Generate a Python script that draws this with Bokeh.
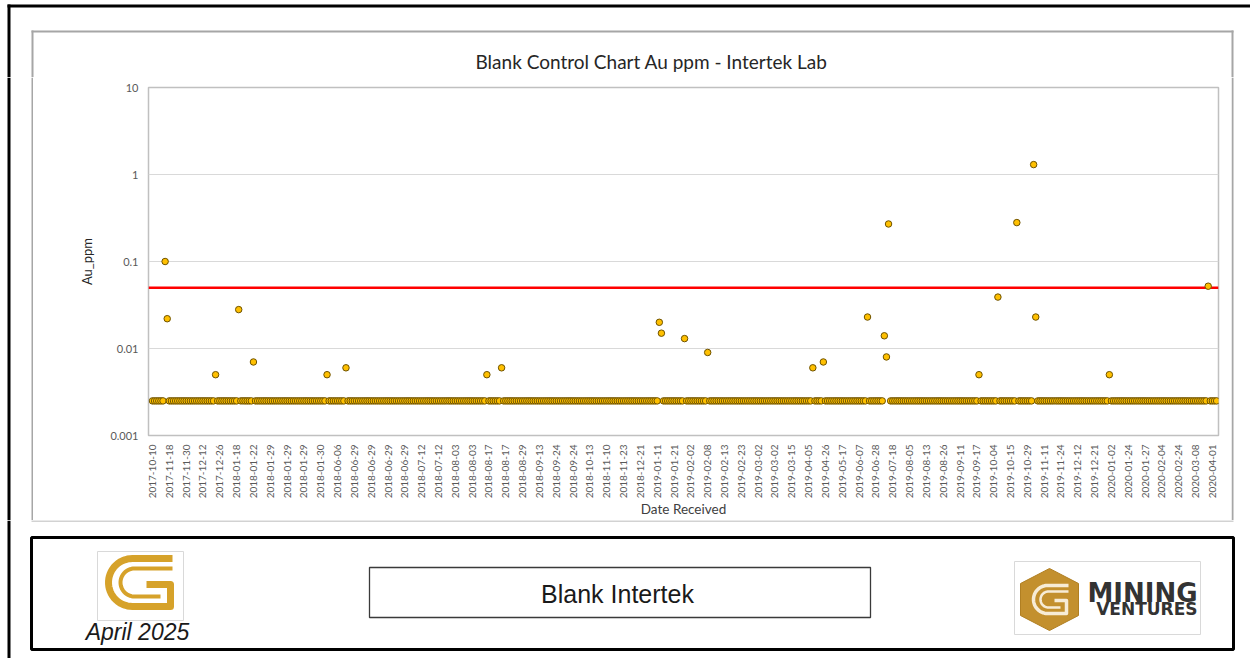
import numpy as np
from bokeh.plotting import figure
from bokeh.layouts import column, row
from bokeh.models import (Range1d, FixedTicker, NumeralTickFormatter, Span,
                          Label, ColumnDataSource)
from bokeh.embed import file_html
from bokeh.resources import INLINE

# ---------------- data ----------------
tick_labels = [
    "2017-10-10", "2017-11-18", "2017-11-30", "2017-12-12", "2017-12-26",
    "2018-01-18", "2018-01-22", "2018-01-29", "2018-01-29", "2018-01-29",
    "2018-01-30", "2018-06-06", "2018-06-29", "2018-06-29", "2018-06-29",
    "2018-06-29", "2018-07-12", "2018-07-12", "2018-08-03", "2018-08-03",
    "2018-08-17", "2018-08-17", "2018-08-29", "2018-09-13", "2018-09-24",
    "2018-09-24", "2018-10-13", "2018-11-10", "2018-11-23", "2018-12-21",
    "2019-01-11", "2019-01-21", "2019-02-02", "2019-02-08", "2019-02-13",
    "2019-02-23", "2019-03-02", "2019-03-02", "2019-03-15", "2019-04-05",
    "2019-04-26", "2019-05-17", "2019-06-07", "2019-06-28", "2019-07-18",
    "2019-08-05", "2019-08-13", "2019-08-26", "2019-09-11", "2019-09-17",
    "2019-10-04", "2019-10-15", "2019-10-29", "2019-11-11", "2019-11-24",
    "2019-12-12", "2019-12-21", "2020-01-02", "2020-01-24", "2020-01-27",
    "2020-02-04", "2020-02-24", "2020-03-08", "2020-04-01",
]
n_samples = 507            # number of blank samples (categories)
label_step = 8             # one date label every 8 samples
detection_floor = 0.0025   # value of all samples below detection
outlier_idx = [6, 7, 30, 41, 48, 83, 92, 159, 166, 241, 242, 253, 264, 314, 319,
               340, 348, 349, 350, 393, 402, 411, 419, 420, 455, 502]
outlier_au = [0.1, 0.022, 0.005, 0.028, 0.007, 0.005, 0.006, 0.005, 0.006,
              0.02, 0.015, 0.013, 0.009, 0.006, 0.007, 0.023, 0.014, 0.008,
              0.27, 0.005, 0.039, 0.28, 1.3, 0.023, 0.005, 0.052]
threshold_au = 0.05
y_ticks = [0.001, 0.01, 0.1, 1, 10]

au_ppm = [detection_floor] * n_samples
for i, v in zip(outlier_idx, outlier_au):
    au_ppm[i] = v
sample_idx = list(range(n_samples))
tick_pos = list(range(0, n_samples, label_step))

FONT = "Lato"
GRAYBOX = "#a6a6a6"


def no_align(fig):
    try:
        fig.frame_align = False
    except Exception:
        pass


def canvas_fig(w, h):
    fig = figure(width=w, height=h, x_range=Range1d(0, w), y_range=Range1d(0, h),
                 output_backend="svg", toolbar_location=None, min_border=0,
                 x_axis_location=None, y_axis_location=None)
    fig.grid.visible = False
    fig.outline_line_color = None
    fig.background_fill_color = "white"
    fig.border_fill_color = "white"
    no_align(fig)
    return fig


def bar(fig, l, r, b, t, color):
    fig.quad(left=[l], right=[r], bottom=[b], top=[t], fill_color=color, line_color=None)


# ---------------- top strip (page y 0..77) ----------------
T = canvas_fig(1250, 77)
bar(T, 7, 1250, 70, 73, "black")
bar(T, 7, 10, 0, 73, "black")
bar(T, 31, 1233, 45, 47, GRAYBOX)
bar(T, 31, 33, 0, 47, GRAYBOX)
bar(T, 1231, 1233, 0, 47, GRAYBOX)
T.add_layout(Label(x=651, y=16, text="Blank Control Chart Au ppm - Intertek Lab",
                   text_align="center", text_baseline="middle",
                   text_font=FONT, text_font_size="19px", text_color="#262626"))

# ---------------- side strips ----------------
L = canvas_fig(33, 443)
bar(L, 7, 10, 0, 443, "black")
bar(L, 31, 33, 0, 443, GRAYBOX)
R = canvas_fig(19, 443)
bar(R, 0, 2, 0, 443, GRAYBOX)

# ---------------- chart figure ----------------
p = figure(width=1198, height=443, x_range=Range1d(-1.9, 506.9),
           y_range=Range1d(0.001, 10), y_axis_type="log",
           output_backend="svg", toolbar_location=None,
           min_border_left=115, min_border_right=13,
           min_border_top=10, min_border_bottom=84)
no_align(p)
p.background_fill_color = "white"
p.border_fill_color = "white"
p.outline_line_color = "#c0c0c0"
p.outline_line_width = 1.5

p.xgrid.visible = False
p.ygrid.grid_line_color = "#d9d9d9"
p.ygrid.grid_line_width = 1.2

xa = p.xaxis[0]
xa.ticker = FixedTicker(ticks=tick_pos)
xa.major_label_overrides = {t: lab for t, lab in zip(tick_pos, tick_labels)}
xa.major_label_orientation = np.pi / 2
xa.major_tick_line_color = None
xa.major_tick_out = 0
xa.major_tick_in = 0
xa.minor_tick_line_color = None
xa.axis_line_color = None
xa.major_label_standoff = 9
xa.major_label_text_font = FONT
xa.major_label_text_font_size = "10px"
xa.major_label_text_color = "#595959"
xa.axis_label = "Date Received"
xa.axis_label_standoff = 0
xa.axis_label_text_font = FONT
xa.axis_label_text_font_size = "13.5px"
xa.axis_label_text_font_style = "normal"
xa.axis_label_text_color = "#404040"

ya = p.yaxis[0]
ya.ticker = FixedTicker(ticks=y_ticks, minor_ticks=[])
ya.formatter = NumeralTickFormatter(format="0.[000]")
ya.major_tick_line_color = None
ya.major_tick_out = 0
ya.major_tick_in = 0
ya.minor_tick_line_color = None
ya.axis_line_color = None
ya.major_label_standoff = 10
ya.major_label_text_font = FONT
ya.major_label_text_font_size = "11px"
ya.major_label_text_color = "#595959"
ya.axis_label = "Au_ppm"
ya.axis_label_standoff = 12
ya.axis_label_text_font = FONT
ya.axis_label_text_font_size = "13px"
ya.axis_label_text_font_style = "normal"
ya.axis_label_text_color = "#262626"

p.add_layout(Span(location=threshold_au, dimension="width",
                  line_color="#ff0000", line_width=2.5, level="underlay"))

src = ColumnDataSource(dict(x=sample_idx, y=au_ppm))
p.scatter(x="x", y="y", source=src, size=6.5, marker="circle",
          fill_color="#ffc000", line_color="#6e5200", line_width=1)

# ---------------- footer (page y 520..658) ----------------
F = canvas_fig(1250, 138)
bar(F, 31, 1233, 137, 138, GRAYBOX)
bar(F, 7, 10, 0, 138, "black")
F.quad(left=[31], right=[1233], bottom=[9], top=[121], fill_color=None,
       line_color="black", line_width=3)
F.quad(left=[369], right=[870], bottom=[41], top=[91], fill_color=None,
       line_color="#3a3a3a", line_width=1.3)
F.add_layout(Label(x=617, y=65, text="Blank Intertek", text_align="center",
                   text_baseline="middle", text_font="Liberation Sans",
                   text_font_size="25px", text_color="#1a1a1a"))

GOLD = "#d6a22a"


def arc_path(cx, cy, r, pre, post):
    th = np.linspace(np.pi / 2, 3 * np.pi / 2, 30)
    xs = [q[0] for q in pre] + list(cx + r * np.cos(th)) + [q[0] for q in post]
    ys = [q[1] for q in pre] + list(cy + r * np.sin(th)) + [q[1] for q in post]
    return xs, ys


# left logo
F.quad(left=[97], right=[183], bottom=[38], top=[107], fill_color="white",
       line_color="#d9d9d9", line_width=1)
ox, oy = arc_path(132, 76, 24, [(172, 100)], [(170, 52), (170, 74), (146, 74)])
ix, iy = arc_path(134, 76, 14, [(172, 90)], [(160, 62)])
F.multi_line(xs=[ox, ix], ys=[oy, iy], line_color=GOLD, line_width=[7, 4],
             line_join="round", line_cap="butt")
F.add_layout(Label(x=137, y=27, text="April 2025", text_align="center",
                   text_baseline="middle", text_font="Liberation Sans",
                   text_font_style="italic", text_font_size="23px",
                   text_color="#1a1a1a"))

# right logo
F.quad(left=[1014], right=[1200], bottom=[24], top=[97], fill_color="white",
       line_color="#d9d9d9", line_width=1)
F.patch(x=[1049, 1078, 1078, 1049, 1020, 1020], y=[90, 75, 43, 28, 43, 75],
        fill_color="#c3902e", line_color="#b07f22")
rx, ry = arc_path(1047, 59, 14, [(1068, 73)], [(1066, 45), (1066, 58), (1054, 58)])
r2x, r2y = arc_path(1048, 59, 8, [(1068, 67)], [(1060, 51)])
F.multi_line(xs=[rx, r2x], ys=[ry, r2y], line_color="#f7ecd6", line_width=[3.5, 2.5],
             line_join="round")
F.add_layout(Label(x=1197, y=66, text="MINING", text_align="right",
                   text_baseline="middle", text_font="DejaVu Sans",
                   text_font_style="bold", text_font_size="26px", text_color="#333333"))
F.add_layout(Label(x=1197, y=50, text="VENTURES", text_align="right",
                   text_baseline="middle", text_font="DejaVu Sans",
                   text_font_style="bold", text_font_size="17px", text_color="#333333"))

layout = column(T, row(L, p, R, spacing=0), F, spacing=0)
open("out.html", "w").write(file_html(layout, INLINE))
